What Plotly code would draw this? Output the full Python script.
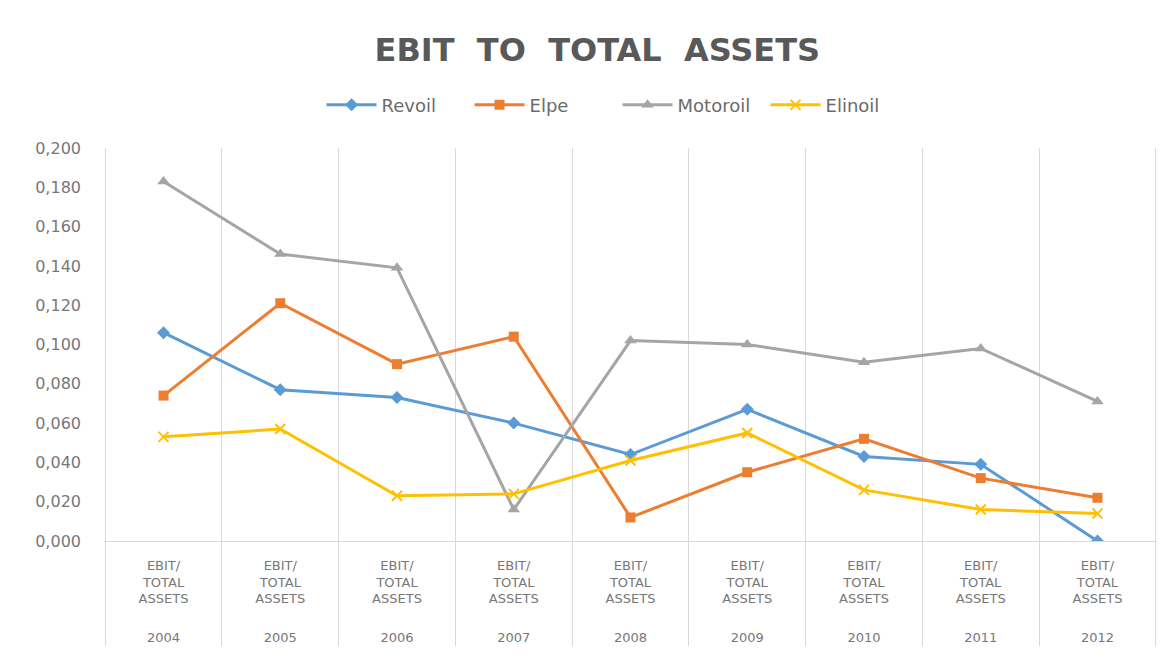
import plotly.graph_objects as go

years = ["2004", "2005", "2006", "2007", "2008", "2009", "2010", "2011", "2012"]
inner_label = "EBIT/<br>TOTAL<br>ASSETS<br> <br> "

revoil = [0.106, 0.077, 0.073, 0.060, 0.044, 0.067, 0.043, 0.039, 0.000]
elpe = [0.074, 0.121, 0.090, 0.104, 0.012, 0.035, 0.052, 0.032, 0.022]
motoroil = [0.183, 0.146, 0.139, 0.016, 0.102, 0.100, 0.091, 0.098, 0.071]
elinoil = [0.053, 0.057, 0.023, 0.024, 0.041, 0.055, 0.026, 0.016, 0.014]

y_ticks = [0.0, 0.02, 0.04, 0.06, 0.08, 0.10, 0.12, 0.14, 0.16, 0.18, 0.20]

x = [years, [inner_label] * len(years)]

series = [
    ("Revoil", revoil, "#5B9BD5", "diamond", 10),
    ("Elpe", elpe, "#ED7D31", "square", 10),
    ("Motoroil", motoroil, "#A5A5A5", "triangle-up", 11),
    ("Elinoil", elinoil, "#FFC000", "x-thin", 10),
]

fig = go.Figure()
for name, vals, color, sym, size in series:
    fig.add_trace(go.Scatter(
        x=x, y=vals, name=name, mode="lines+markers",
        line=dict(color=color, width=3),
        marker=dict(symbol=sym, size=size, color=color,
                    line=dict(color=color, width=2 if sym == "x-thin" else 0)),
    ))

fig.update_layout(
    width=1167, height=649,
    paper_bgcolor="white", plot_bgcolor="white",
    separators=", ",
    margin=dict(l=96, r=18, t=140, b=116, autoexpand=False),
    font=dict(family="DejaVu Sans", color="#595959"),
    title=dict(text="EBIT  TO  TOTAL  ASSETS", x=0.505, xanchor="center",
               y=0.936, yanchor="middle",
               font=dict(size=32, color="#595959", family="DejaVu Sans", weight="bold")),
    legend=dict(orientation="h", x=0.4877, xanchor="center",
                y=1.109, yanchor="middle",
                font=dict(size=18, color="#6b6b6b"), itemwidth=50,
                entrywidth=83, entrywidthmode="pixels"),
    showlegend=True,
)
fig.update_xaxes(
    type="multicategory", showgrid=True, gridcolor="#D9D9D9", gridwidth=1,
    showline=True, linecolor="#D9D9D9", linewidth=1,
    showdividers=True, dividercolor="#D9D9D9", dividerwidth=1,
    tickfont=dict(size=13, color="#777777"), tickson="boundaries",
    ticks="outside", ticklen=10, tickcolor="#D9D9D9", tickangle=0,
    ticklabelstandoff=12,
)
fig.update_yaxes(
    range=[0, 0.2], tickvals=y_ticks, tickformat=".3f", showgrid=False,
    zeroline=False, showline=False, ticks="",
    tickfont=dict(size=16, color="#777777"), ticklabelstandoff=22,
)

fig.write_html("out.html")
